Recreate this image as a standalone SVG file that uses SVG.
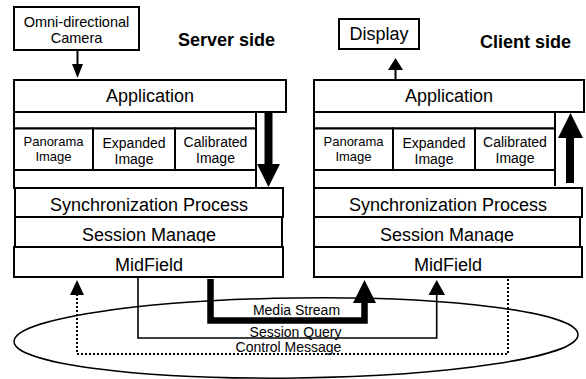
<svg xmlns="http://www.w3.org/2000/svg" width="586" height="379" viewBox="0 0 586 379">
  <style>
    .box { fill: #fff; stroke: #000; stroke-width: 2; }
    .ln { fill: none; stroke: #000; stroke-width: 2; }
    .t { font-family: "Liberation Sans", Arial, sans-serif; fill: #000; text-anchor: middle; }
    .big { font-size: 18px; }
    .sm { font-size: 14px; }
    .side { font-family: "Liberation Sans", Arial, sans-serif; font-size: 18px; font-weight: bold; fill: #000; }
    .head { fill: #000; stroke: none; }
    .thin { fill: none; stroke: #000; stroke-width: 1.6; }
    .thick { fill: none; stroke: #000; stroke-width: 6.5; stroke-linejoin: miter; }
    .dot { fill: none; stroke: #000; stroke-width: 2; stroke-dasharray: 2 2; }
    .lbl { font-family: "Liberation Sans", Arial, sans-serif; font-size: 14px; fill: #000; text-anchor: middle; }
  </style>
  <defs>
    <clipPath id="clipSessionS"><rect x="0" y="200" width="300" height="42.5"/></clipPath>
    <clipPath id="clipSessionC"><rect x="300" y="200" width="286" height="42.5"/></clipPath>
  </defs>

  <rect width="586" height="379" fill="#fff"/>

  <!-- network cloud -->
  <ellipse id="network" cx="296" cy="338" rx="282" ry="40" transform="rotate(-0.7 296 338)" fill="none" stroke="#000" stroke-width="1.5"/>

  <!-- ===== Server side ===== -->
  <g id="camera">
    <rect class="box" x="14" y="7" width="125" height="43"/>
    <text class="t" x="76.5" y="27" font-size="14.5">Omni-directional</text>
    <text class="t" x="76.5" y="43" font-size="14.5">Camera</text>
  </g>
  <text class="side" x="178" y="46">Server side</text>

  <g id="server-frame">
    <line class="ln" x1="14" y1="110" x2="14" y2="189"/>
    <line class="ln" x1="256" y1="109" x2="256" y2="187"/>
    <line class="ln" x1="14" y1="128.5" x2="256" y2="128.5"/>
    <line class="ln" x1="14" y1="170" x2="256" y2="170"/>
  </g>
  <g id="server-app">
    <rect class="box" x="14" y="80" width="272" height="32"/>
    <text class="t big" x="150" y="102">Application</text>
  </g>
  <g id="server-panorama">
    <rect class="box" x="14" y="128.5" width="79" height="41.5"/>
    <text class="t" x="53.5" y="146" font-size="13">Panorama</text>
    <text class="t" x="53.5" y="161" font-size="13">Image</text>
  </g>
  <g id="server-expanded">
    <rect class="box" x="93" y="128.5" width="82" height="41.5"/>
    <text class="t sm" x="134" y="147.5">Expanded</text>
    <text class="t sm" x="134" y="163.5">Image</text>
  </g>
  <g id="server-calibrated">
    <rect class="box" x="175" y="128.5" width="81" height="41.5"/>
    <text class="t sm" x="215.5" y="147">Calibrated</text>
    <text class="t sm" x="215.5" y="163">Image</text>
  </g>
  <g id="server-sync">
    <rect class="box" x="15" y="188" width="268" height="29"/>
    <text class="t big" x="149" y="211">Synchronization Process</text>
  </g>
  <g id="server-session">
    <rect class="box" x="15" y="217" width="267" height="30"/>
    <text class="t big" x="149" y="240.5" clip-path="url(#clipSessionS)">Session Manage</text>
  </g>
  <g id="server-midfield">
    <rect class="box" x="14" y="247" width="269" height="30"/>
    <text class="t big" x="149" y="271">MidField</text>
  </g>

  <!-- ===== Client side ===== -->
  <g id="display">
    <rect class="box" x="339" y="19" width="80" height="30"/>
    <text class="t big" x="379" y="40">Display</text>
  </g>
  <text class="side" x="480" y="48">Client side</text>

  <g id="client-frame">
    <line class="ln" x1="314" y1="110" x2="314" y2="189"/>
    <line class="ln" x1="555" y1="109" x2="555" y2="186"/>
    <line class="ln" x1="314" y1="128.5" x2="555" y2="128.5"/>
    <line class="ln" x1="314" y1="170" x2="555" y2="170"/>
  </g>
  <g id="client-app">
    <rect class="box" x="314" y="80" width="270" height="32"/>
    <text class="t big" x="449" y="102">Application</text>
  </g>
  <g id="client-panorama">
    <rect class="box" x="314" y="128.5" width="79" height="41.5"/>
    <text class="t" x="353.5" y="146" font-size="13">Panorama</text>
    <text class="t" x="353.5" y="161" font-size="13">Image</text>
  </g>
  <g id="client-expanded">
    <rect class="box" x="393" y="128.5" width="82" height="41.5"/>
    <text class="t sm" x="434" y="147.5">Expanded</text>
    <text class="t sm" x="434" y="163.5">Image</text>
  </g>
  <g id="client-calibrated">
    <rect class="box" x="475" y="128.5" width="80" height="41.5"/>
    <text class="t sm" x="515" y="147">Calibrated</text>
    <text class="t sm" x="515" y="163">Image</text>
  </g>
  <g id="client-sync">
    <rect class="box" x="314" y="188" width="268" height="29"/>
    <text class="t big" x="448" y="211">Synchronization Process</text>
  </g>
  <g id="client-session">
    <rect class="box" x="314" y="217" width="266" height="30"/>
    <text class="t big" x="447" y="240.5" clip-path="url(#clipSessionC)">Session Manage</text>
  </g>
  <g id="client-midfield">
    <rect class="box" x="314" y="247" width="268" height="30"/>
    <text class="t big" x="448" y="271">MidField</text>
  </g>

  <!-- ===== Connectors ===== -->
  <g id="connectors">
    <!-- camera feeds the server application -->
    <line class="ln" x1="77.5" y1="50" x2="77.5" y2="66"/>
    <polygon class="head" points="72,64 83,64 77.5,78"/>
    <!-- client application drives the display -->
    <line class="ln" x1="395.5" y1="80" x2="395.5" y2="68"/>
    <polygon class="head" points="388,70 403,70 395.5,58"/>
    <!-- server: application down to synchronization -->
    <rect class="head" x="264.5" y="113" width="8" height="52"/>
    <polygon class="head" points="257,164 280,164 268.5,187"/>
    <!-- client: synchronization up to application -->
    <rect class="head" x="566" y="136" width="8" height="47"/>
    <polygon class="head" points="558,138 583,138 570.5,113"/>

    <!-- media stream -->
    <polyline class="thick" points="210.5,279 210.5,320.5 364.5,320.5 364.5,301"/>
    <polygon class="head" points="353,303 376,303 364.5,280"/>
    <!-- session query -->
    <polyline class="thin" points="138,277 138,338 436.7,338 436.7,293"/>
    <polygon class="head" points="428.5,295 445,295 436.7,280"/>
    <!-- control message -->
    <polyline class="dot" points="508,279 508,354 77,354 77,294"/>
    <polygon class="head" points="70,295 84,295 77,280"/>
  </g>

  <g id="connector-labels">
    <text class="lbl" x="296.5" y="315">Media Stream</text>
    <text class="lbl" x="295.5" y="337">Session Query</text>
    <text class="lbl" x="288.5" y="352">Control Message</text>
  </g>
</svg>
